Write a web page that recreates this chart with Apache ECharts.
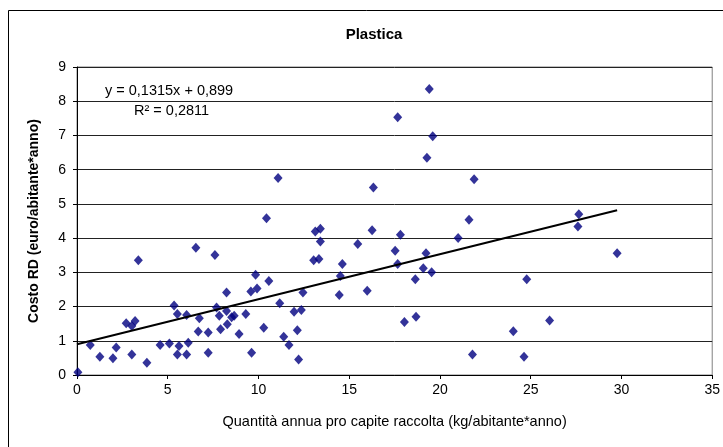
<!DOCTYPE html>
<html>
<head>
<meta charset="utf-8">
<script src="https://cdn.jsdelivr.net/npm/echarts@6/dist/echarts.min.js"></script>
<style>
  html, body { margin: 0; padding: 0; background: #fff; }
  #chart { width: 723px; height: 447px; }
</style>
</head>
<body>
<div id="chart"></div>
<script>
// Quantità raccolta (kg/abitante*anno) per comune
const quantita = [
  0.05, 0.73, 1.26, 1.98, 2.16, 2.71, 3.02, 3.20, 3.02, 3.38,
  3.85, 4.58, 5.09, 5.35, 5.53, 5.62, 5.53, 6.04, 6.13, 6.04,
  6.55, 6.68, 6.74, 7.23, 7.23, 7.60, 7.69, 7.84, 7.91, 8.24,
  8.24, 8.28, 8.52, 8.66, 8.93, 9.30, 9.58, 9.62, 9.84, 9.92,
  10.29, 10.44, 10.57, 11.08, 11.17, 11.39, 11.68, 11.96, 12.14, 12.21,
  12.36, 12.45, 13.04, 13.13, 13.33, 13.41, 13.41, 14.51, 14.45, 14.62,
  15.47, 15.99, 16.26, 16.33, 17.53, 17.67, 17.67, 17.82, 18.04, 18.64,
  18.68, 19.08, 19.23, 19.28, 19.41, 19.54, 19.60, 21.00, 21.60, 21.79,
  21.88, 24.04, 24.63, 24.78, 26.04, 27.60, 27.65, 29.76
];
// Costo RD (euro/abitante*anno) per comune
const costo = [
  0.08, 0.88, 0.53, 0.49, 0.80, 1.51, 1.43, 1.58, 0.60, 3.35,
  0.36, 0.88, 0.92, 2.03, 1.78, 0.85, 0.60, 1.75, 0.94, 0.60,
  3.72, 1.27, 1.66, 1.24, 0.65, 3.51, 1.97, 1.73, 1.34, 2.41,
  1.87, 1.48, 1.69, 1.73, 1.20, 1.78, 2.44, 0.65, 2.93, 2.53,
  1.38, 4.58, 2.75, 5.76, 2.10, 1.12, 0.88, 1.85, 1.31, 0.45,
  1.90, 2.41, 3.35, 4.19, 3.39, 4.27, 3.90, 2.89, 2.34, 3.24,
  3.83, 2.46, 4.23, 5.48, 3.63, 7.53, 3.24, 4.10, 1.55, 2.80,
  1.70, 3.12, 3.56, 6.35, 8.36, 3.00, 6.98, 4.00, 4.54, 0.60,
  5.72, 1.28, 0.53, 2.80, 1.59, 4.34, 4.70, 3.56
];
// Retta di regressione lineare
const pendenza = 0.1315;
const intercetta = 0.899;
const r2 = '0,2811';

const xTicks = [0, 5, 10, 15, 20, 25, 30, 35];
const yTicks = [0, 1, 2, 3, 4, 5, 6, 7, 8, 9];

const punti = quantita.map((q, i) => [q, costo[i]]);
const xMaxDati = Math.max(...quantita);
const retta = [[0, intercetta], [xMaxDati, pendenza * xMaxDati + intercetta]];

const font = '"Liberation Sans", Arial, sans-serif';
const chart = echarts.init(document.getElementById('chart'), null, { renderer: 'canvas' });

chart.setOption({
  animation: false,
  backgroundColor: '#fff',
  title: {
    text: 'Plastica',
    left: 369, top: 22, textAlign: 'center',
    textStyle: { fontFamily: font, fontSize: 15, fontWeight: 'bold', color: '#000' }
  },
  grid: {
    left: 77, top: 67, width: 636, height: 308,
    show: true, borderColor: '#808080', borderWidth: 1, backgroundColor: '#fff'
  },
  xAxis: {
    type: 'value', min: xTicks[0], max: xTicks[xTicks.length - 1], interval: 5,
    name: 'Quantità annua pro capite raccolta (kg/abitante*anno)',
    nameLocation: 'middle', nameGap: 39,
    nameTextStyle: { fontFamily: font, fontSize: 14.5, color: '#000' },
    axisLine: { lineStyle: { color: '#000', width: 1 } },
    axisTick: { show: true, length: 4, inside: false, lineStyle: { color: '#000' } },
    axisLabel: { fontFamily: font, fontSize: 14, color: '#000', margin: 8 },
    splitLine: { show: false }
  },
  yAxis: {
    type: 'value', min: yTicks[0], max: yTicks[yTicks.length - 1], interval: 1,
    name: 'Costo RD (euro/abitante*anno)',
    nameLocation: 'middle', nameGap: 36, nameRotate: 90,
    nameTextStyle: { fontFamily: font, fontSize: 14, fontWeight: 'bold', color: '#000' },
    axisLine: { show: true, lineStyle: { color: '#000', width: 1 } },
    axisTick: { show: true, length: 4, inside: false, lineStyle: { color: '#000' } },
    axisLabel: { fontFamily: font, fontSize: 14, color: '#000', margin: 11 },
    splitLine: { show: true, lineStyle: { color: '#222', width: 1 } }
  },
  series: [
    {
      type: 'scatter',
      data: punti,
      symbol: 'diamond',
      symbolSize: [9, 10],
      itemStyle: { color: '#000080' },
      z: 3
    },
    {
      type: 'line',
      data: retta,
      showSymbol: false,
      symbol: 'none',
      lineStyle: { color: '#000', width: 2 },
      z: 4
    }
  ],
  graphic: [
    {
      type: 'rect', silent: true,
      shape: { x: 8.5, y: 10.5, width: 740, height: 460 },
      style: { fill: null, stroke: '#000', lineWidth: 1 }
    },
    {
      type: 'text', left: 105, top: 83,
      style: { text: 'y = ' + String(pendenza).replace('.', ',') + 'x + ' + String(intercetta).replace('.', ','), font: '14.5px ' + font, fill: '#000' }
    },
    {
      type: 'text', left: 134, top: 103,
      style: { text: 'R² = ' + r2, font: '14.5px ' + font, fill: '#000' }
    }
  ]
});
</script>
</body>
</html>
